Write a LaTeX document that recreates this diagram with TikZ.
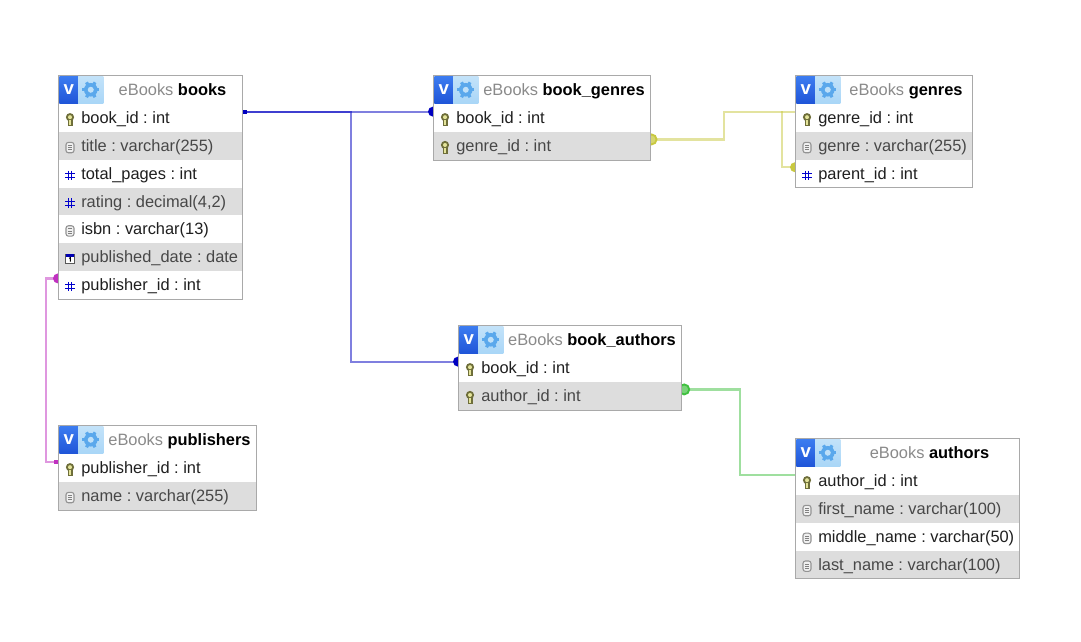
\documentclass[tikz,border=0pt]{standalone}
\usepackage{fontspec}
\setmainfont{Liberation Sans}
\usetikzlibrary{backgrounds, fit}
\frenchspacing

\definecolor{rowgrey}{HTML}{DDDDDD}
\definecolor{framegrey}{HTML}{A9A9A9}
\definecolor{titlegrey}{HTML}{8A8A8A}
\definecolor{vblue}{HTML}{1F55D8}
\definecolor{vbluetop}{HTML}{3C7CF0}
\definecolor{cellblue}{HTML}{A9D6F7}
\definecolor{gearblue}{HTML}{5AA8EC}
\definecolor{keyolive}{HTML}{6E6E3A}
\definecolor{keypale}{HTML}{E4E49A}
\definecolor{linkblue}{HTML}{0000C0}
\definecolor{linkyellow}{HTML}{C8C840}
\definecolor{linkpink}{HTML}{C030C0}
\definecolor{linkgreen}{HTML}{40C040}

\tikzset{
  keyicon/.pic={
    \fill[keyolive] (-1.8,-1) rectangle (2.6,6.5);
    \fill[keyolive] (0,-2.6) circle (4.1);
    \fill[keypale] (0,-2.6) circle (2);
    \fill[keypale] (-.6,0) rectangle (.9,5.2);
  },
  texticon/.pic={
    \draw[gray!85, line width=.8pt, rounded corners=1.8pt, fill=black!6] (-4,-5.2) rectangle (4,5.2);
    \foreach \k in {-2.2,0,2.2} \draw[gray, line width=.55pt] (-2,\k) -- (2,\k);
  },
  hashicon/.pic={
    \draw[blue!80!black, line width=.85pt] (-1.9,-4.8) -- (-1.9,4.8) (1.9,-4.8) -- (1.9,4.8)
      (-4.6,-1.7) -- (4.6,-1.7) (-4.6,1.9) -- (4.6,1.9);
  },
  dateicon/.pic={
    \draw[gray!70!black, line width=.65pt, fill=white] (-4.3,-4.3) rectangle (4.3,4.5);
    \fill[blue!70!black] (-4.3,-4.3) rectangle (4.3,-2);
    \draw[black, line width=.7pt] (-.9,-.6) -- (.4,-1.1) -- (.4,2.8);
  },
  gearicon/.pic={
    \foreach \k in {0,60,...,300} \draw[gearblue, line width=2.4pt] (0,0) -- (\k:8.6);
    \fill[gearblue] (0,0) circle (6.8);
    \fill[cellblue!75!white] (0,0) circle (3);
  }
}

\newcommand{\dbtable}[7]{
  \node[headcell, minimum width=#4*.75pt, anchor=north west] (#1h) at (#2,#3+.6) {};
  \node[vcell, anchor=north west] (#1v) at (#2+1,#3+1) {v};
  \node[gearcell, anchor=north west] (#1g) at (#2+20,#3+1) {};
  \pic at (#1g.center) {gearicon};
  \node[titletext] (#1t) at ({#2+45+(#4-45)/2},#3+15.8) {\textcolor{titlegrey}{eBooks} \textbf{#6}};
  \foreach \icon/\txt [count=\i] in {#7} {
    \pgfmathtruncatemacro{\tint}{mod(\i,2)}
    \node[rowtint\tint, minimum width=#4*.75pt, anchor=north west]
      (#1r\i) at (#2,{#3+29+27.8*(\i-1)}) {};
    \pic at ([xshift=9pt,yshift=-1.2pt]#1r\i.west) {\icon};
    \node[rowtext\tint] (#1n\i) at ([xshift=17.25pt,yshift=-.85pt]#1r\i.west) {\txt};
    \coordinate (#1w\i) at ([yshift=4.9pt]#1r\i.west);
    \coordinate (#1e\i) at ([yshift=4.9pt]#1r\i.east);
  }
  \node[tableframe, fit=(#1h)(#1r#5)] (#1) {};
}

\begin{document}
\begin{tikzpicture}[x=.75pt, y=-.75pt,
    font=\fontsize{12.3}{14}\selectfont,
    headcell/.style={fill=white, minimum height=21.75pt, inner sep=0pt},
    vcell/.style={top color=vbluetop, bottom color=vblue, text=white,
      font=\fontsize{14}{14}\selectfont\bfseries,
      minimum width=14.25pt, minimum height=20.25pt, inner sep=0pt},
    gearcell/.style={top color=cellblue!70!white, bottom color=cellblue,
      minimum width=18.75pt, minimum height=20.25pt, inner sep=0pt},
    titletext/.style={text=black, text height=9pt, text depth=2.5pt, inner sep=0pt},
    rowtint0/.style={fill=rowgrey, minimum height=20.85pt, inner sep=0pt},
    rowtint1/.style={fill=white, minimum height=20.85pt, inner sep=0pt},
    rowtext0/.style={anchor=west, text=black!72, text height=9pt, text depth=2.5pt, inner sep=0pt},
    rowtext1/.style={anchor=west, text=black!88, text height=9pt, text depth=2.5pt, inner sep=0pt},
    tableframe/.style={draw=framegrey, line width=.75pt, inner sep=0pt},
    link/.style={line width=1.7pt, opacity=.5},
    enddot/.style={circle, minimum size=7.5pt, inner sep=0pt},
    outdot/.style={circle, minimum size=7.5pt, inner sep=0pt, line width=1.4pt},
    endtab/.style={minimum size=3pt, inner sep=0pt}]

  \useasboundingbox (0,0) rectangle (1081,642);

  \dbtable{books}{58}{75}{184}{7}{books}{keyicon/book\_id : int, texticon/title : varchar(255),
    hashicon/total\_pages : int, hashicon/{rating : decimal(4,2)}, texticon/isbn : varchar(13),
    dateicon/published\_date : date, hashicon/publisher\_id : int}
  \dbtable{bookgenres}{433}{75}{217}{2}{book\_genres}{keyicon/book\_id : int, keyicon/genre\_id : int}
  \dbtable{genres}{795}{75}{177}{3}{genres}{keyicon/genre\_id : int, texticon/genre : varchar(255),
    hashicon/parent\_id : int}
  \dbtable{bookauthors}{458}{325}{223}{2}{book\_authors}{keyicon/book\_id : int, keyicon/author\_id : int}
  \dbtable{publishers}{58}{425}{198}{2}{publishers}{keyicon/publisher\_id : int, texticon/name : varchar(255)}
  \dbtable{authors}{795}{438}{224}{4}{authors}{keyicon/author\_id : int, texticon/first\_name : varchar(100),
    texticon/middle\_name : varchar(50), texticon/last\_name : varchar(100)}

  % links stay behind the tables, so each end dot shows only its outer half
  \begin{pgfonlayer}{background}
    \draw[link, linkblue] (bookse1) -- (bookgenresw1);
    \draw[link, linkblue] (bookse1) -| (351,250) |- (bookauthorsw1);
    \draw[link, linkyellow] (bookgenrese2) -| (724,125) |- (genresw1);
    \draw[link, linkyellow] (782,111) |- (genresw3);
    \draw[link, linkpink] (booksw7) -| (46,400) |- (publishersw1);
    \draw[link, linkgreen] (bookauthorse2) -| (740,430) |- (authorsw1);

    \node[endtab, fill=linkblue, anchor=west] (bookstab) at (bookse1) {};
    \node[enddot, fill=linkblue] (bookgenresdot) at (bookgenresw1) {};
    \node[enddot, fill=linkblue] (bookauthorsdot) at (bookauthorsw1) {};
    \node[outdot, draw=linkyellow, fill=linkyellow!75!white, xshift=.75pt] (bookgenresout) at (bookgenrese2) {};
    \node[enddot, fill=linkyellow] (genresdot) at (genresw3) {};
    \node[enddot, fill=linkpink] (booksdot) at (booksw7) {};
    \node[endtab, fill=linkpink, anchor=east] (publisherstab) at (publishersw1) {};
    \node[outdot, draw=linkgreen, fill=linkgreen!70!white, xshift=2pt] (bookauthorsout) at (bookauthorse2) {};
  \end{pgfonlayer}

\end{tikzpicture}
\end{document}
